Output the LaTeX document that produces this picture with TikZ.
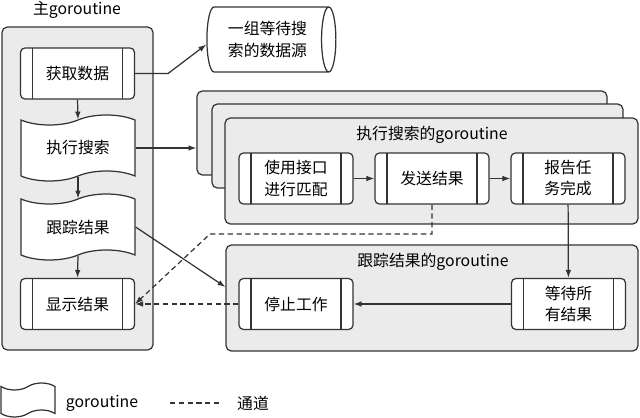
\documentclass[tikz,border=0pt]{standalone}
\usepackage{fontspec}
\setmainfont{Noto Sans CJK SC}
\usetikzlibrary{positioning,arrows.meta,shapes.geometric,shapes.symbols}

\begin{document}
\begin{tikzpicture}[x=0.02cm, y=-0.02cm, >={Latex[length=4.5pt,width=3.2pt]},
    font=\fontsize{9}{12}\selectfont,
    ink/.style={draw=black!80, line width=0.7pt},
    grp/.style={ink, rounded corners=3pt, fill=black!8, inner sep=0pt},
    proc/.style={ink, rounded corners=2.5pt, fill=white, align=center, inner sep=0pt,
        minimum width=2.28cm, minimum height=1.02cm,
        path picture={
            \draw[ink] ([xshift=0.24cm]path picture bounding box.north west) -- ([xshift=0.24cm]path picture bounding box.south west);
            \draw[ink] ([xshift=-0.24cm]path picture bounding box.north east) -- ([xshift=-0.24cm]path picture bounding box.south east);
        }},
    gor/.style={ink, tape, fill=white, inner sep=0pt,
        tape bend top=in and out, tape bend bottom=in and out, tape bend height=0.2cm,
        minimum width=2.28cm, minimum height=1.32cm},
    flow/.style={ink, ->},
    chan/.style={ink, ->, dash pattern=on 3pt off 2pt},
]

        % page size
        \useasboundingbox (0,0) rectangle (640,418);

        % main goroutine
        \node[grp, minimum width=3.02cm, minimum height=6.46cm] (maingrp) at (77.5,188.5) {};
        \node (maintitle) at (77,10) {主goroutine};
        \node[proc] (fetch) at (77.5,73.5) {获取数据};
        \node[gor] (search) at (78,148) {执行搜索};
        \node[gor] (track) at (78,227) {跟踪结果};
        \node[proc] (show) at (77.5,304) {显示结果};

        % data source (width and height swap for a cylinder)
        \node[ink, cylinder, fill=white, shape aspect=0.4, align=center, inner sep=0pt,
            minimum width=1.3cm, minimum height=2.58cm] (ds) at (267.5,39.5) {一组等待搜\\索的数据源};

        % search goroutines, stacked
        \node[grp, minimum width=8.2cm, minimum height=1.68cm] (back1) at (402,133) {};
        \node[grp, minimum width=8.22cm, minimum height=1.68cm] (back2) at (417.5,146) {};
        \node[grp, minimum width=8.26cm, minimum height=2.12cm] (searchgrp) at (431.5,171) {};
        \node (searchtitle) at (432,135) {执行搜索的goroutine};
        \node[proc] (match) at (296,178.5) {使用接口\\进行匹配};
        \node[proc] (send) at (432,178.5) {发送结果};
        \node[proc] (report) at (568,178.5) {报告任\\务完成};

        % track goroutine
        \node[grp, minimum width=8.24cm, minimum height=2.12cm] (trackgrp) at (432,298) {};
        \node (tracktitle) at (433,262) {跟踪结果的goroutine};
        \node[proc] (stop) at (296,304) {停止工作};
        \node[proc] (wait) at (568.5,304) {等待所\\有结果};

        % flow
        \draw[flow] (fetch.south) -- (search.north);
        \draw[flow] (search.south) -- (track.north);
        \draw[flow] (track.south) -- (show.north);
        \draw[flow] (fetch.east) -- ++(33,0) -- ([yshift=-0.1cm]ds.west);
        \draw[flow] (search.east) -- (search.east -| back1.west);
        \draw[flow] (match) -- (send);
        \draw[flow] (send) -- (report);
        \draw[flow] (report) -- (wait);
        \draw[flow] (wait) -- (stop);
        \draw[flow] (track.east) -- ([yshift=0.22cm]trackgrp.west);

        % channels
        \coordinate (turn) at (210,234);
        \draw[chan] (send.south) |- (turn) -- (show.east);
        \draw[chan] (stop) -- (show);

        % legend
        \node[gor, minimum width=1.08cm, minimum height=0.68cm, tape bend height=0.14cm] (keygor) at (28,400) {};
        \node (keygortext) at (102,403) {goroutine};
        \coordinate (keya) at (170,403);
        \coordinate (keyb) at (222,403);
        \draw[ink, dash pattern=on 3pt off 2pt] (keya) -- (keyb);
        \node (keychan) at (253,403) {通道};

\end{tikzpicture}
\end{document}
